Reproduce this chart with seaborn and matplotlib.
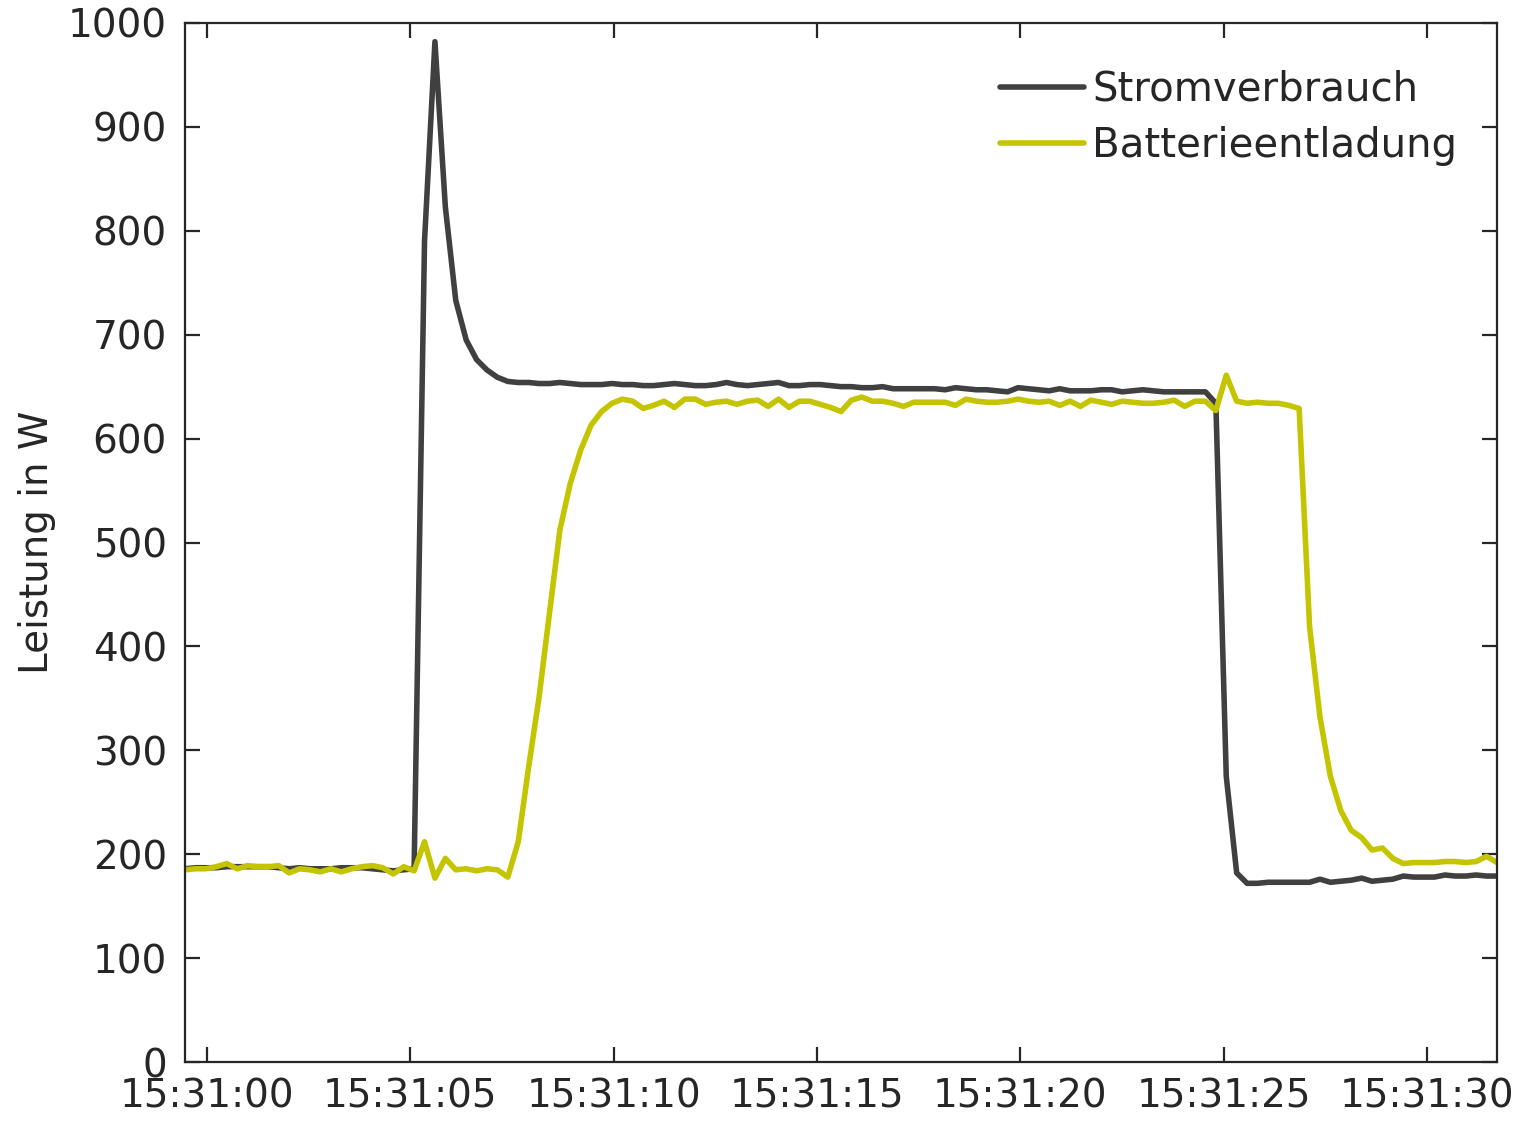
import matplotlib
matplotlib.use("Agg")
import matplotlib.pyplot as plt
import matplotlib.dates as mdates
import seaborn as sns
import pandas as pd

# Messwerte (W), Abtastung ca. alle 0,256 s ab 15:30:59.46
start_zeit = "2021-01-01 15:30:59.460"
schritt = "256ms"

stromverbrauch = [
    186, 187, 187, 187, 188, 188, 188, 188, 188, 187,
    186, 187, 186, 186, 186, 187, 187, 187, 186, 185,
    184, 185, 186, 790, 982, 823, 733, 695, 676, 666,
    659, 655, 654, 654, 653, 653, 654, 653, 652, 652,
    652, 653, 652, 652, 651, 651, 652, 653, 652, 651,
    651, 652, 654, 652, 651, 652, 653, 654, 651, 651,
    652, 652, 651, 650, 650, 649, 649, 650, 648, 648,
    648, 648, 648, 647, 649, 648, 647, 647, 646, 645,
    649, 648, 647, 646, 648, 646, 646, 646, 647, 647,
    645, 646, 647, 646, 645, 645, 645, 645, 645, 634,
    275, 182, 172, 172, 173, 173, 173, 173, 173, 176,
    173, 174, 175, 177, 174, 175, 176, 179, 178, 178,
    178, 180, 179, 179, 180, 179, 179,
]

batterieentladung = [
    185, 186, 186, 188, 191, 186, 189, 188, 188, 189,
    182, 186, 185, 183, 186, 183, 186, 188, 189, 187,
    181, 188, 184, 212, 177, 196, 185, 186, 184, 186,
    185, 178, 212, 284, 351, 432, 512, 557, 589, 613,
    626, 634, 638, 636, 629, 632, 636, 630, 638, 638,
    633, 635, 636, 633, 636, 637, 631, 638, 630, 636,
    636, 633, 630, 626, 637, 640, 636, 636, 634, 631,
    635, 635, 635, 635, 632, 638, 636, 635, 635, 636,
    638, 636, 635, 636, 632, 636, 631, 637, 635, 633,
    636, 635, 634, 634, 635, 637, 631, 636, 636, 627,
    661, 636, 634, 635, 634, 634, 632, 629, 419, 332,
    275, 242, 223, 216, 204, 206, 196, 191, 192, 192,
    192, 193, 193, 192, 193, 198, 192,
]

reihen = ["Stromverbrauch", "Batterieentladung"]
farben = ["#404040", "#c4c400"]

zeit = pd.date_range(start=start_zeit, periods=len(stromverbrauch), freq=schritt)

df = pd.concat([
    pd.DataFrame({"Zeit": zeit, "Leistung": stromverbrauch, "Reihe": reihen[0]}),
    pd.DataFrame({"Zeit": zeit, "Leistung": batterieentladung, "Reihe": reihen[1]}),
])

sns.set_theme(style="white")
plt.rcParams["font.family"] = ["DejaVu Sans"]

fig = plt.figure(figsize=(15.28, 11.21), dpi=100)
ax = fig.add_axes([0.1211, 0.0526, 0.8586, 0.9269])

sns.lineplot(data=df, x="Zeit", y="Leistung", hue="Reihe", hue_order=reihen,
             palette=farben, linewidth=4, estimator=None, ax=ax)

ax.set_xlim(zeit[0], zeit[-1])
ax.set_ylim(0, 1000)
ax.set_yticks(range(0, 1001, 100))
ax.xaxis.set_major_locator(mdates.SecondLocator(bysecond=range(0, 60, 5)))
ax.xaxis.set_major_formatter(mdates.DateFormatter("%H:%M:%S"))

ax.set_xlabel("")
ax.set_ylabel("Leistung in W", fontsize=28, color="#262626")
ax.yaxis.set_label_coords(-0.098, 0.5)

for s in ax.spines.values():
    s.set_visible(True)
    s.set_color("#262626")
    s.set_linewidth(1.6)

ax.tick_params(axis="both", which="major", direction="in", length=11, width=1.6,
               color="#262626", labelcolor="#262626", labelsize=28,
               top=True, right=True, bottom=True, left=True)
ax.tick_params(axis="x", pad=11)
ax.tick_params(axis="y", pad=13)

leg = ax.legend(loc="upper left", bbox_to_anchor=(0.621, 0.955), frameon=False,
                fontsize=29, handlelength=2.1, handletextpad=0.2,
                borderpad=0, borderaxespad=0, labelspacing=0.4)
for line in leg.get_lines():
    line.set_linewidth(4)

fig.savefig("out.png", dpi=100)
